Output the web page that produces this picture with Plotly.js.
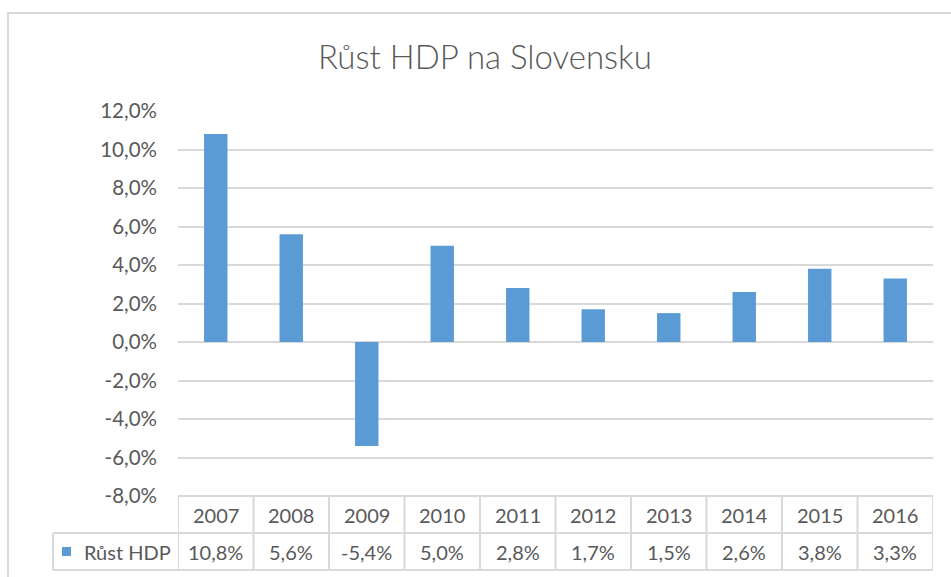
<!DOCTYPE html>
<html>
<head>
<meta charset="utf-8">
<script src="https://cdn.plot.ly/plotly-3.0.1.min.js"></script>
<style>html,body{margin:0;padding:0;background:#fff;}#chart{width:951px;height:577px;}</style>
</head>
<body>
<div id="chart"></div>
<script>
// Data
var chartTitle = "Růst HDP na Slovensku";
var seriesName = "Růst HDP";
var years = ["2007","2008","2009","2010","2011","2012","2013","2014","2015","2016"];
var growth = [10.8, 5.6, -5.4, 5.0, 2.8, 1.7, 1.5, 2.6, 3.8, 3.3];
var tickValues = [12, 10, 8, 6, 4, 2, 0, -2, -4, -6, -8];

function fmtPct(v){ return v.toFixed(1).replace('.', ',') + '%'; }

var FONT = "Lato, 'Open Sans', sans-serif";
var TXT = "#595959";
var GRID = "#D9D9D9";
var BAR = "#5B9BD5";

// geometry helpers (plot area: 178..933 px, 111..496 px)
var PL = 178, PR = 933, PT = 111, PB = 496;
var PW = PR - PL, PH = PB - PT;
function px2x(px){ return (px - PL) / PW; }
function px2y(py){ return (PB - py) / PH; }

var trace = {
  type: 'bar',
  x: years,
  y: growth,
  name: seriesName,
  marker: {color: BAR},
  hoverinfo: 'x+y'
};

var yRow1 = px2y(514.5), yRow2 = px2y(551.5);
var annotations = [];
years.forEach(function(yr, i){
  annotations.push({xref:'x', yref:'paper', x: i, y: yRow1, text: yr, showarrow:false,
    font:{family:FONT, size:20, color:TXT}, xanchor:'center', yanchor:'middle'});
  annotations.push({xref:'x', yref:'paper', x: i, y: yRow2, text: fmtPct(growth[i]), showarrow:false,
    font:{family:FONT, size:20, color:TXT}, xanchor:'center', yanchor:'middle'});
});
annotations.push({xref:'paper', yref:'paper', x: px2x(82), y: yRow2, text: seriesName, showarrow:false,
  font:{family:FONT, size:20, color:TXT}, xanchor:'left', yanchor:'middle'});

var lineStyle = {color: GRID, width: 2};
var shapes = [];
// outer chart border
shapes.push({type:'rect', xref:'paper', yref:'paper', x0: px2x(8), x1: px2x(970), y0: px2y(600), y1: px2y(13),
  line:{color:GRID, width:2}, fillcolor:'rgba(0,0,0,0)', layer:'below'});
// table horizontal lines
shapes.push({type:'line', xref:'paper', yref:'paper', x0:0, x1:1, y0:px2y(496), y1:px2y(496), line:lineStyle});
shapes.push({type:'line', xref:'paper', yref:'paper', x0:px2x(53), x1:1, y0:px2y(533), y1:px2y(533), line:lineStyle});
shapes.push({type:'line', xref:'paper', yref:'paper', x0:px2x(53), x1:1, y0:px2y(570), y1:px2y(570), line:lineStyle});
// table vertical lines
shapes.push({type:'line', xref:'paper', yref:'paper', x0:px2x(53), x1:px2x(53), y0:px2y(533), y1:px2y(570), line:lineStyle});
for (var i = 0; i <= years.length; i++){
  shapes.push({type:'line', xref:'x', yref:'paper', x0: i - 0.5, x1: i - 0.5, y0: px2y(496), y1: px2y(570), line:lineStyle});
}
// legend key square
shapes.push({type:'rect', xref:'paper', yref:'paper', x0: px2x(62), x1: px2x(71), y0: px2y(556), y1: px2y(547),
  line:{width:0}, fillcolor: BAR});

var layout = {
  width: 951, height: 577,
  margin: {l: PL, r: 951 - PR, t: PT, b: 577 - PB, pad: 0},
  paper_bgcolor: '#fff', plot_bgcolor: '#fff',
  showlegend: false,
  bargap: 0.69,
  title: {text: chartTitle, font:{family:FONT, size:33, color:TXT, weight:300},
    x: 485/951, xref:'container', xanchor:'center', y: 1 - 57/577, yref:'container', yanchor:'middle'},
  xaxis: {type:'category', showticklabels:false, showgrid:false, zeroline:false, showline:false, ticks:'',
    range:[-0.5, years.length - 0.5], fixedrange:true},
  yaxis: {range:[-8, 12], tickvals: tickValues, ticktext: tickValues.map(fmtPct),
    showgrid:true, gridcolor:GRID, gridwidth:2, zeroline:false, showline:false, ticks:'',
    ticklabelstandoff: 20,
    tickfont:{family:FONT, size:20.5, color:TXT}, fixedrange:true},
  annotations: annotations,
  shapes: shapes
};

Plotly.newPlot('chart', [trace], layout, {displayModeBar:false, staticPlot:true});
</script>
</body>
</html>
